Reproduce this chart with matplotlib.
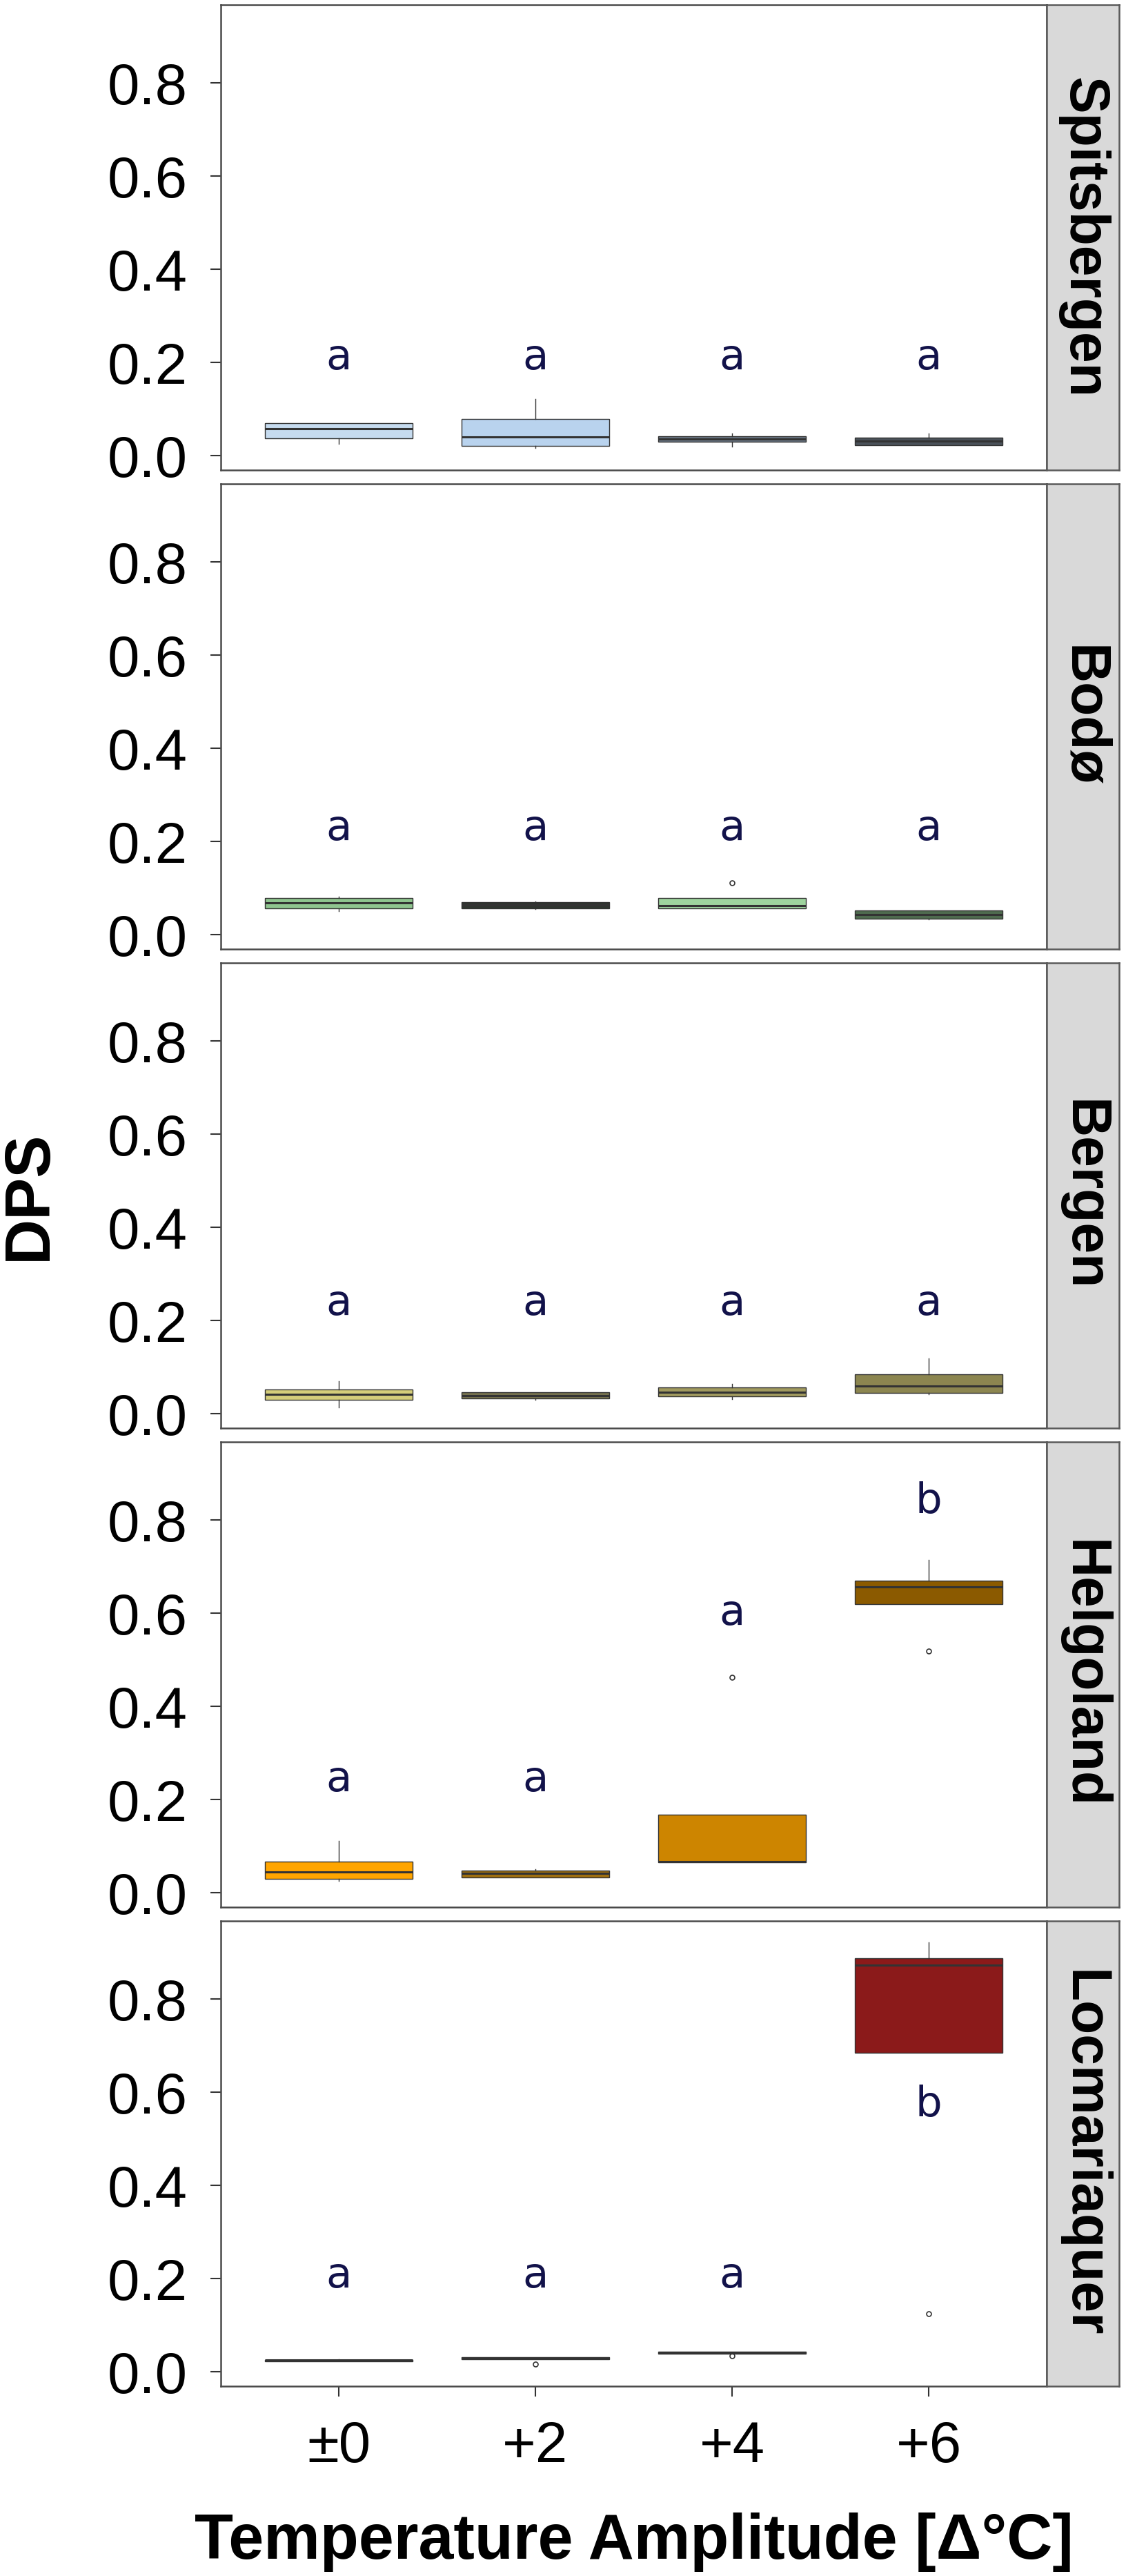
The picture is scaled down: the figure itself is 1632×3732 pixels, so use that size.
import matplotlib
matplotlib.use("Agg")
import matplotlib.pyplot as plt

# categories
sites = ["Spitsbergen", "Bodø", "Bergen", "Helgoland", "Locmariaquer"]
amplitudes = ["±0", "+2", "+4", "+6"]

# box stats (whisker low, q1, median, q3, whisker high)
spits_lo = [0.025, 0.016, 0.020, 0.022]
spits_q1 = [0.037, 0.021, 0.029, 0.022]
spits_med = [0.058, 0.040, 0.035, 0.031]
spits_q3 = [0.069, 0.078, 0.042, 0.039]
spits_hi = [0.069, 0.122, 0.048, 0.048]
spits_out = [[], [], [], []]

bodo_lo = [0.051, 0.055, 0.057, 0.032]
bodo_q1 = [0.057, 0.057, 0.057, 0.034]
bodo_med = [0.068, 0.064, 0.062, 0.043]
bodo_q3 = [0.078, 0.069, 0.078, 0.052]
bodo_hi = [0.082, 0.071, 0.078, 0.052]
bodo_out = [[], [], [0.111], []]

bergen_lo = [0.014, 0.030, 0.031, 0.041]
bergen_q1 = [0.029, 0.033, 0.037, 0.044]
bergen_med = [0.041, 0.039, 0.046, 0.060]
bergen_q3 = [0.052, 0.046, 0.057, 0.085]
bergen_hi = [0.069, 0.046, 0.064, 0.118]
bergen_out = [[], [], [], []]

helgo_lo = [0.025, 0.033, 0.065, 0.620]
helgo_q1 = [0.030, 0.033, 0.065, 0.620]
helgo_med = [0.045, 0.042, 0.067, 0.656]
helgo_q3 = [0.067, 0.048, 0.168, 0.670]
helgo_hi = [0.111, 0.050, 0.168, 0.714]
helgo_out = [[], [], [0.463], [0.519]]

locma_lo = [0.022, 0.027, 0.038, 0.684]
locma_q1 = [0.023, 0.027, 0.038, 0.684]
locma_med = [0.025, 0.029, 0.041, 0.872]
locma_q3 = [0.026, 0.031, 0.043, 0.888]
locma_hi = [0.027, 0.031, 0.043, 0.922]
locma_out = [[], [0.016], [0.034], [0.125]]

# significance letters and their heights
spits_letters = ["a", "a", "a", "a"]
spits_letter_y = [0.21, 0.21, 0.21, 0.21]
bodo_letters = ["a", "a", "a", "a"]
bodo_letter_y = [0.227, 0.227, 0.227, 0.227]
bergen_letters = ["a", "a", "a", "a"]
bergen_letter_y = [0.237, 0.237, 0.237, 0.237]
helgo_letters = ["a", "a", "a", "b"]
helgo_letter_y = [0.2425, 0.2425, 0.60, 0.84]
locma_letters = ["a", "a", "a", "b"]
locma_letter_y = [0.206, 0.206, 0.206, 0.572]

# fill colours per box
spits_colors = ["#C6DBEF", "#B9D3EE", "#6C7886", "#4A5159"]
bodo_colors = ["#8FC48F", "#2E352E", "#9ED49E", "#4F6B4F"]
bergen_colors = ["#D4CD7A", "#77734F", "#A19A5E", "#8C8650"]
helgo_colors = ["#FFA500", "#A0700F", "#CD8500", "#8B5A00"]
locma_colors = ["#3A3A3A", "#3A3A3A", "#3A3A3A", "#8B1A1A"]

panels = [
    (spits_lo, spits_q1, spits_med, spits_q3, spits_hi, spits_out, spits_letters, spits_letter_y, spits_colors),
    (bodo_lo, bodo_q1, bodo_med, bodo_q3, bodo_hi, bodo_out, bodo_letters, bodo_letter_y, bodo_colors),
    (bergen_lo, bergen_q1, bergen_med, bergen_q3, bergen_hi, bergen_out, bergen_letters, bergen_letter_y, bergen_colors),
    (helgo_lo, helgo_q1, helgo_med, helgo_q3, helgo_hi, helgo_out, helgo_letters, helgo_letter_y, helgo_colors),
    (locma_lo, locma_q1, locma_med, locma_q3, locma_hi, locma_out, locma_letters, locma_letter_y, locma_colors),
]

W, H = 1633, 3732
fig = plt.figure(figsize=(W / 100, H / 100), dpi=100)
plt.rcParams["font.family"] = ["Liberation Sans", "DejaVu Sans"]

left_px, right_px, strip_px = 320, 1517, 1622
panel_h, gap = 674, 20
top0 = 7
edge = "#333333"

positions = list(range(1, len(amplitudes) + 1))
for k, (lo, q1, med, q3, hi, out, letters, letter_y, colors) in enumerate(panels):
    top = top0 + k * (panel_h + gap)
    bottom = top + panel_h
    ax = fig.add_axes([left_px / W, 1 - bottom / H, (right_px - left_px) / W, panel_h / H])
    stats = []
    for i in range(len(amplitudes)):
        stats.append(dict(whislo=lo[i], q1=q1[i], med=med[i], q3=q3[i], whishi=hi[i], fliers=out[i]))
    bp = ax.bxp(stats, positions=positions, widths=0.75, patch_artist=True, showcaps=False,
                boxprops=dict(edgecolor=edge, linewidth=1.0),
                medianprops=dict(color=edge, linewidth=2.2),
                whiskerprops=dict(color=edge, linewidth=1.0),
                flierprops=dict(marker="o", markerfacecolor="none", markeredgecolor=edge,
                                markersize=5, markeredgewidth=1.2))
    for patch, c in zip(bp["boxes"], colors):
        patch.set_facecolor(c)
    for x, lab, ly in zip(positions, letters, letter_y):
        ax.text(x, ly, lab, ha="center", va="center", fontsize=44, color="#12124A",
                family="DejaVu Sans")

    ax.set_xlim(0.4, 4.6)
    ax.set_ylim(-0.031, 0.9675)
    ax.set_yticks([0.0, 0.2, 0.4, 0.6, 0.8])
    ax.set_yticklabels(["0.0", "0.2", "0.4", "0.6", "0.8"])
    ax.set_xticks(positions)
    ax.tick_params(axis="both", length=11, width=1.5, color=edge, labelsize=60, pad=24)
    if k == len(panels) - 1:
        ax.set_xticklabels(amplitudes)
    else:
        ax.tick_params(axis="x", bottom=False, labelbottom=False)
    for sp in ax.spines.values():
        sp.set_color("#4a4a4a")
        sp.set_linewidth(1.8)

    # facet strip on the right
    sax = fig.add_axes([right_px / W, 1 - bottom / H, (strip_px - right_px) / W, panel_h / H])
    sax.set_facecolor("#D9D9D9")
    sax.set_xticks([])
    sax.set_yticks([])
    for sp in sax.spines.values():
        sp.set_color("#5a5a5a")
        sp.set_linewidth(1.8)
    sax.text(0.5, 0.5, sites[k], rotation=-90, ha="center", va="center",
             fontsize=58, fontweight="bold", transform=sax.transAxes)

fig.text(43 / W, 1 - 1732 / H, "DPS", rotation=90, ha="center", va="center",
         fontsize=66, fontweight="bold")
fig.text((left_px + right_px) / 2 / W, 1 - 3707 / H, "Temperature Amplitude [Δ°C]",
         ha="center", va="baseline", fontsize=66, fontweight="bold")

fig.savefig("out.png", dpi=100)
